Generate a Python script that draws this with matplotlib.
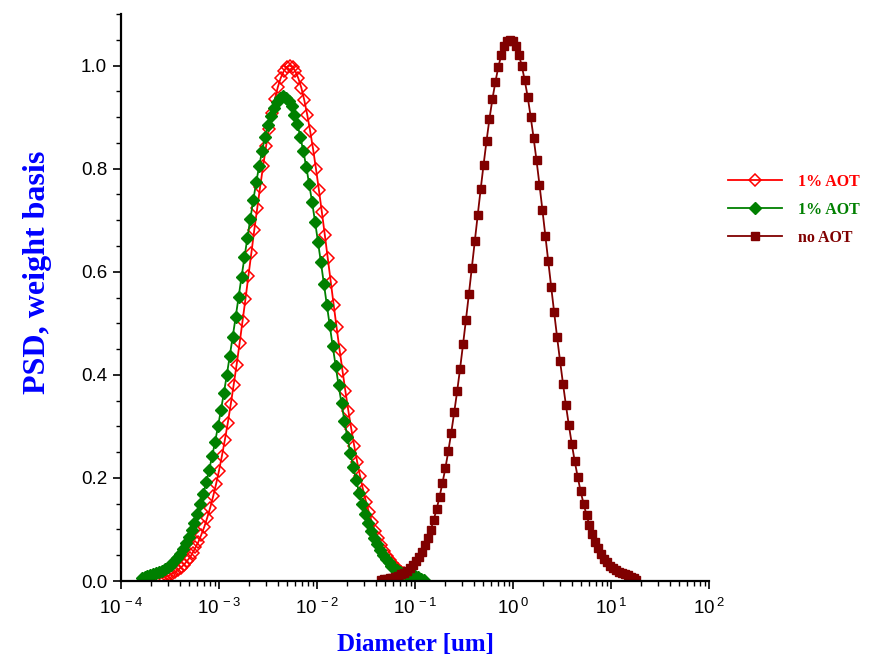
import numpy as np
import matplotlib
matplotlib.use("Agg")
import matplotlib.pyplot as plt
from matplotlib.ticker import FixedLocator, MultipleLocator, FuncFormatter, NullFormatter


# --------------------------------------------------
# Data (log10 of diameter in um, PSD weight basis)
# --------------------------------------------------
red_logd = [
    -3.60, -3.57, -3.54, -3.51, -3.48, -3.45, -3.42, -3.39, -3.36, -3.33,
    -3.30, -3.27, -3.24, -3.21, -3.18, -3.15, -3.12, -3.09, -3.06, -3.03,
    -3.00, -2.97, -2.94, -2.91, -2.88, -2.85, -2.82, -2.79, -2.76, -2.73,
    -2.70, -2.67, -2.64, -2.61, -2.58, -2.55, -2.52, -2.49, -2.46, -2.43,
    -2.40, -2.37, -2.34, -2.31, -2.28, -2.25, -2.22, -2.19, -2.16, -2.13,
    -2.10, -2.07, -2.04, -2.01, -1.98, -1.95, -1.92, -1.89, -1.86, -1.83,
    -1.80, -1.77, -1.74, -1.71, -1.68, -1.65, -1.62, -1.59, -1.56, -1.53,
    -1.50, -1.47, -1.44, -1.41, -1.38, -1.35, -1.32, -1.29, -1.26, -1.23,
    -1.20, -1.17, -1.14, -1.11, -1.08, -1.05, -1.02, -0.99,
]
red_psd = [
    0.006, 0.007, 0.009, 0.011, 0.014, 0.017, 0.021, 0.026, 0.031, 0.038,
    0.045, 0.054, 0.065, 0.076, 0.090, 0.105, 0.123, 0.142, 0.164, 0.188,
    0.214, 0.243, 0.274, 0.307, 0.343, 0.381, 0.420, 0.461, 0.504, 0.547,
    0.592, 0.636, 0.681, 0.723, 0.765, 0.805, 0.843, 0.877, 0.908, 0.935,
    0.958, 0.976, 0.989, 0.997, 1.000, 0.997, 0.989, 0.975, 0.957, 0.933,
    0.905, 0.873, 0.838, 0.799, 0.758, 0.715, 0.671, 0.626, 0.581, 0.536,
    0.492, 0.449, 0.408, 0.368, 0.330, 0.295, 0.262, 0.231, 0.203, 0.177,
    0.154, 0.133, 0.114, 0.097, 0.083, 0.070, 0.059, 0.049, 0.041, 0.034,
    0.028, 0.023, 0.018, 0.015, 0.012, 0.010, 0.008, 0.006,
]

green_logd = [
    -3.79, -3.76, -3.73, -3.70, -3.67, -3.64, -3.61, -3.58, -3.55, -3.52,
    -3.49, -3.46, -3.43, -3.40, -3.37, -3.34, -3.31, -3.28, -3.25, -3.22,
    -3.19, -3.16, -3.13, -3.10, -3.07, -3.04, -3.01, -2.98, -2.95, -2.92,
    -2.89, -2.86, -2.83, -2.80, -2.77, -2.74, -2.71, -2.68, -2.65, -2.62,
    -2.59, -2.56, -2.53, -2.50, -2.47, -2.44, -2.41, -2.38, -2.35, -2.32,
    -2.29, -2.26, -2.23, -2.20, -2.17, -2.14, -2.11, -2.08, -2.05, -2.02,
    -1.99, -1.96, -1.93, -1.90, -1.87, -1.84, -1.81, -1.78, -1.75, -1.72,
    -1.69, -1.66, -1.63, -1.60, -1.57, -1.54, -1.51, -1.48, -1.45, -1.42,
    -1.39, -1.36, -1.33, -1.30, -1.27, -1.24, -1.21, -1.18, -1.15, -1.12,
    -1.09, -1.06, -1.03, -1.00, -0.97, -0.94, -0.91,
]
green_psd = [
    0.006, 0.008, 0.010, 0.012, 0.014, 0.016, 0.018, 0.020, 0.023, 0.027,
    0.032, 0.038, 0.045, 0.053, 0.062, 0.073, 0.085, 0.098, 0.113, 0.130,
    0.149, 0.169, 0.192, 0.216, 0.242, 0.270, 0.300, 0.332, 0.365, 0.400,
    0.437, 0.474, 0.512, 0.551, 0.590, 0.628, 0.666, 0.703, 0.739, 0.774,
    0.805, 0.835, 0.861, 0.884, 0.903, 0.918, 0.930, 0.937, 0.940, 0.938,
    0.932, 0.921, 0.905, 0.886, 0.862, 0.834, 0.804, 0.770, 0.735, 0.697,
    0.658, 0.618, 0.577, 0.536, 0.496, 0.456, 0.418, 0.380, 0.345, 0.311,
    0.279, 0.249, 0.221, 0.195, 0.171, 0.150, 0.130, 0.113, 0.097, 0.083,
    0.071, 0.060, 0.051, 0.043, 0.036, 0.030, 0.025, 0.021, 0.018, 0.016,
    0.014, 0.013, 0.012, 0.010, 0.007, 0.004, 0.002,
]

noaot_logd = [
    -1.35, -1.32, -1.29, -1.26, -1.23, -1.20, -1.17, -1.14, -1.11, -1.08,
    -1.05, -1.02, -0.99, -0.96, -0.93, -0.90, -0.87, -0.84, -0.81, -0.78,
    -0.75, -0.72, -0.69, -0.66, -0.63, -0.60, -0.57, -0.54, -0.51, -0.48,
    -0.45, -0.42, -0.39, -0.36, -0.33, -0.30, -0.27, -0.24, -0.21, -0.18,
    -0.15, -0.12, -0.09, -0.06, -0.03, 0.00, 0.03, 0.06, 0.09, 0.12,
    0.15, 0.18, 0.21, 0.24, 0.27, 0.30, 0.33, 0.36, 0.39, 0.42,
    0.45, 0.48, 0.51, 0.54, 0.57, 0.60, 0.63, 0.66, 0.69, 0.72,
    0.75, 0.78, 0.81, 0.84, 0.87, 0.90, 0.93, 0.96, 0.99, 1.02,
    1.05, 1.08, 1.11, 1.14, 1.17, 1.20, 1.23, 1.26,
]
noaot_psd = [
    0.002, 0.003, 0.004, 0.005, 0.006, 0.008, 0.010, 0.013, 0.016, 0.020,
    0.025, 0.031, 0.038, 0.047, 0.057, 0.069, 0.083, 0.099, 0.118, 0.139,
    0.163, 0.190, 0.219, 0.252, 0.288, 0.327, 0.368, 0.412, 0.459, 0.507,
    0.557, 0.608, 0.659, 0.710, 0.760, 0.808, 0.854, 0.897, 0.935, 0.968,
    0.997, 1.020, 1.037, 1.047, 1.050, 1.047, 1.037, 1.021, 0.999, 0.971,
    0.939, 0.901, 0.860, 0.816, 0.769, 0.720, 0.670, 0.620, 0.570, 0.521,
    0.473, 0.427, 0.383, 0.341, 0.302, 0.266, 0.232, 0.202, 0.174, 0.150,
    0.128, 0.108, 0.091, 0.076, 0.064, 0.053, 0.043, 0.036, 0.030, 0.025,
    0.021, 0.018, 0.016, 0.013, 0.011, 0.008, 0.005, 0.002,
]

series_labels = ["1% AOT", "1% AOT", "no AOT"]
x_decades = [-4, -3, -2, -1, 0, 1, 2]
y_ticks = [0.0, 0.2, 0.4, 0.6, 0.8, 1.0]


# --------------------------------------------------
# Plot
# --------------------------------------------------
def plot_psd():
    plt.rcParams["font.family"] = ["Liberation Sans", "DejaVu Sans"]
    plt.rcParams["mathtext.default"] = "regular"

    fig = plt.figure(figsize=(8.74, 6.67), dpi=100)
    ax = fig.add_axes([121 / 874, 1 - 581 / 667, 588 / 874, 567 / 667])

    ax.plot(10 ** np.array(red_logd), red_psd, color="#ff0000", lw=1.3,
            marker="D", ms=6.5, mfc="none", mec="#ff0000", mew=1.1,
            label=series_labels[0])
    ax.plot(10 ** np.array(green_logd), green_psd, color="#008000", lw=1.3,
            marker="D", ms=6.5, mfc="#008000", mec="#008000",
            label=series_labels[1])
    ax.plot(10 ** np.array(noaot_logd), noaot_psd, color="#800000", lw=1.3,
            marker="s", ms=6.2, mfc="#800000", mec="#800000",
            label=series_labels[2])

    ax.set_xscale("log")
    ax.set_xlim(1e-4, 1e2)
    ax.set_ylim(0, 1.1)

    for side in ["top", "right"]:
        ax.spines[side].set_visible(False)
    for side in ["left", "bottom"]:
        ax.spines[side].set_linewidth(1.6)

    ax.xaxis.set_major_locator(FixedLocator([10.0 ** d for d in x_decades]))
    ax.xaxis.set_major_formatter(
        FuncFormatter(lambda v, _: r"$10^{\,%d}$" % round(np.log10(v)))
    )
    minor_x = [m * 10.0 ** d for d in x_decades[:-1] for m in range(2, 10)]
    ax.xaxis.set_minor_locator(FixedLocator(minor_x))
    ax.xaxis.set_minor_formatter(NullFormatter())

    ax.set_yticks(y_ticks)
    ax.yaxis.set_major_formatter(FuncFormatter(lambda v, _: "%.1f" % v))
    ax.yaxis.set_minor_locator(MultipleLocator(0.05))

    ax.tick_params(which="major", direction="out", length=6, width=1.2,
                   labelsize=13.5, pad=4)
    ax.tick_params(axis="x", which="major", pad=6)
    ax.tick_params(which="minor", direction="out", length=3.5, width=1.0)

    ax.set_xlabel("Diameter [um]", color="#0000ff", fontsize=18,
                  fontweight="bold", family="Liberation Serif")
    ax.xaxis.set_label_coords(0.5, -(645 - 581) / 567)
    ax.xaxis.label.set_verticalalignment("center")

    ax.set_ylabel("PSD, weight basis", color="#0000ff", fontsize=23,
                  fontweight="bold", family="Liberation Serif")
    ax.yaxis.set_label_coords((38 - 121) / 588, (581 - 272) / 567)
    ax.yaxis.label.set_verticalalignment("center")

    ax.legend(loc="upper left", bbox_to_anchor=(720 / 874, 1 - 166 / 667),
              bbox_transform=fig.transFigure, frameon=False,
              prop={"family": "Liberation Serif", "weight": "bold", "size": 11.5},
              labelcolor="linecolor", handlelength=3.4, handletextpad=1.0,
              labelspacing=0.75, borderpad=0)

    fig.savefig("out.png", dpi=100)
    plt.close(fig)


if __name__ == "__main__":
    plot_psd()
